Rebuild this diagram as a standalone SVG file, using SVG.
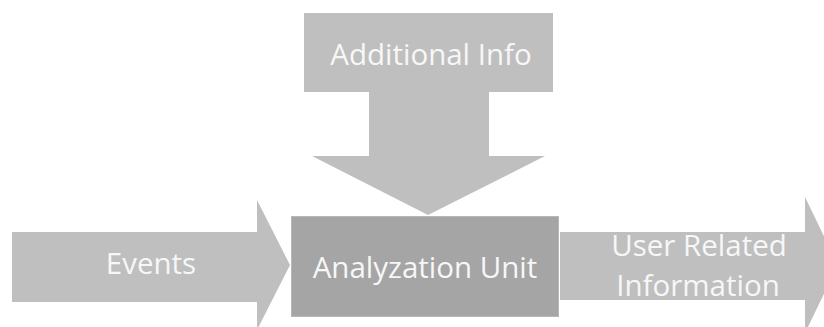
<svg xmlns="http://www.w3.org/2000/svg" width="824" height="327" viewBox="0 0 824 327">
  <style>
    .arrow { fill: #bfbfbf; }
    .unit { fill: #a5a5a5; stroke: #b8b8b8; stroke-width: 1; }
    .label { font-family: "Open Sans", "Liberation Sans", sans-serif; font-size: 29.5px; fill: #f7f7f7; text-anchor: middle; }
  </style>
  <rect width="824" height="327" fill="#ffffff"/>

  <g id="connectors">
    <!-- Additional Info: block arrow pointing down onto the unit -->
    <g id="additional-info">
      <path class="arrow" d="M304 13 H553 V92 H489 V156 H545 L428 215 L312 156 H369 V92 H304 Z"/>
      <text class="label" x="431" y="65">Additional Info</text>
    </g>
    <!-- Events: block arrow feeding the unit from the left -->
    <g id="events">
      <path class="arrow" d="M12 232 H257 V200 L290 265 L257 330 V302 H12 Z"/>
      <text class="label" x="151" y="274">Events</text>
    </g>
    <!-- User Related Information: block arrow leaving to the right -->
    <g id="user-related-information">
      <path class="arrow" d="M560 232 H805 V197 L838 265 L805 333 V300 H560 Z"/>
      <text class="label" x="699" y="256">User Related</text>
      <text class="label" x="698" y="296">Information</text>
    </g>
  </g>

  <g id="analyzation-unit">
    <rect class="unit" x="291.5" y="216.5" width="267" height="100"/>
    <text class="label" x="425" y="278">Analyzation Unit</text>
  </g>
</svg>
